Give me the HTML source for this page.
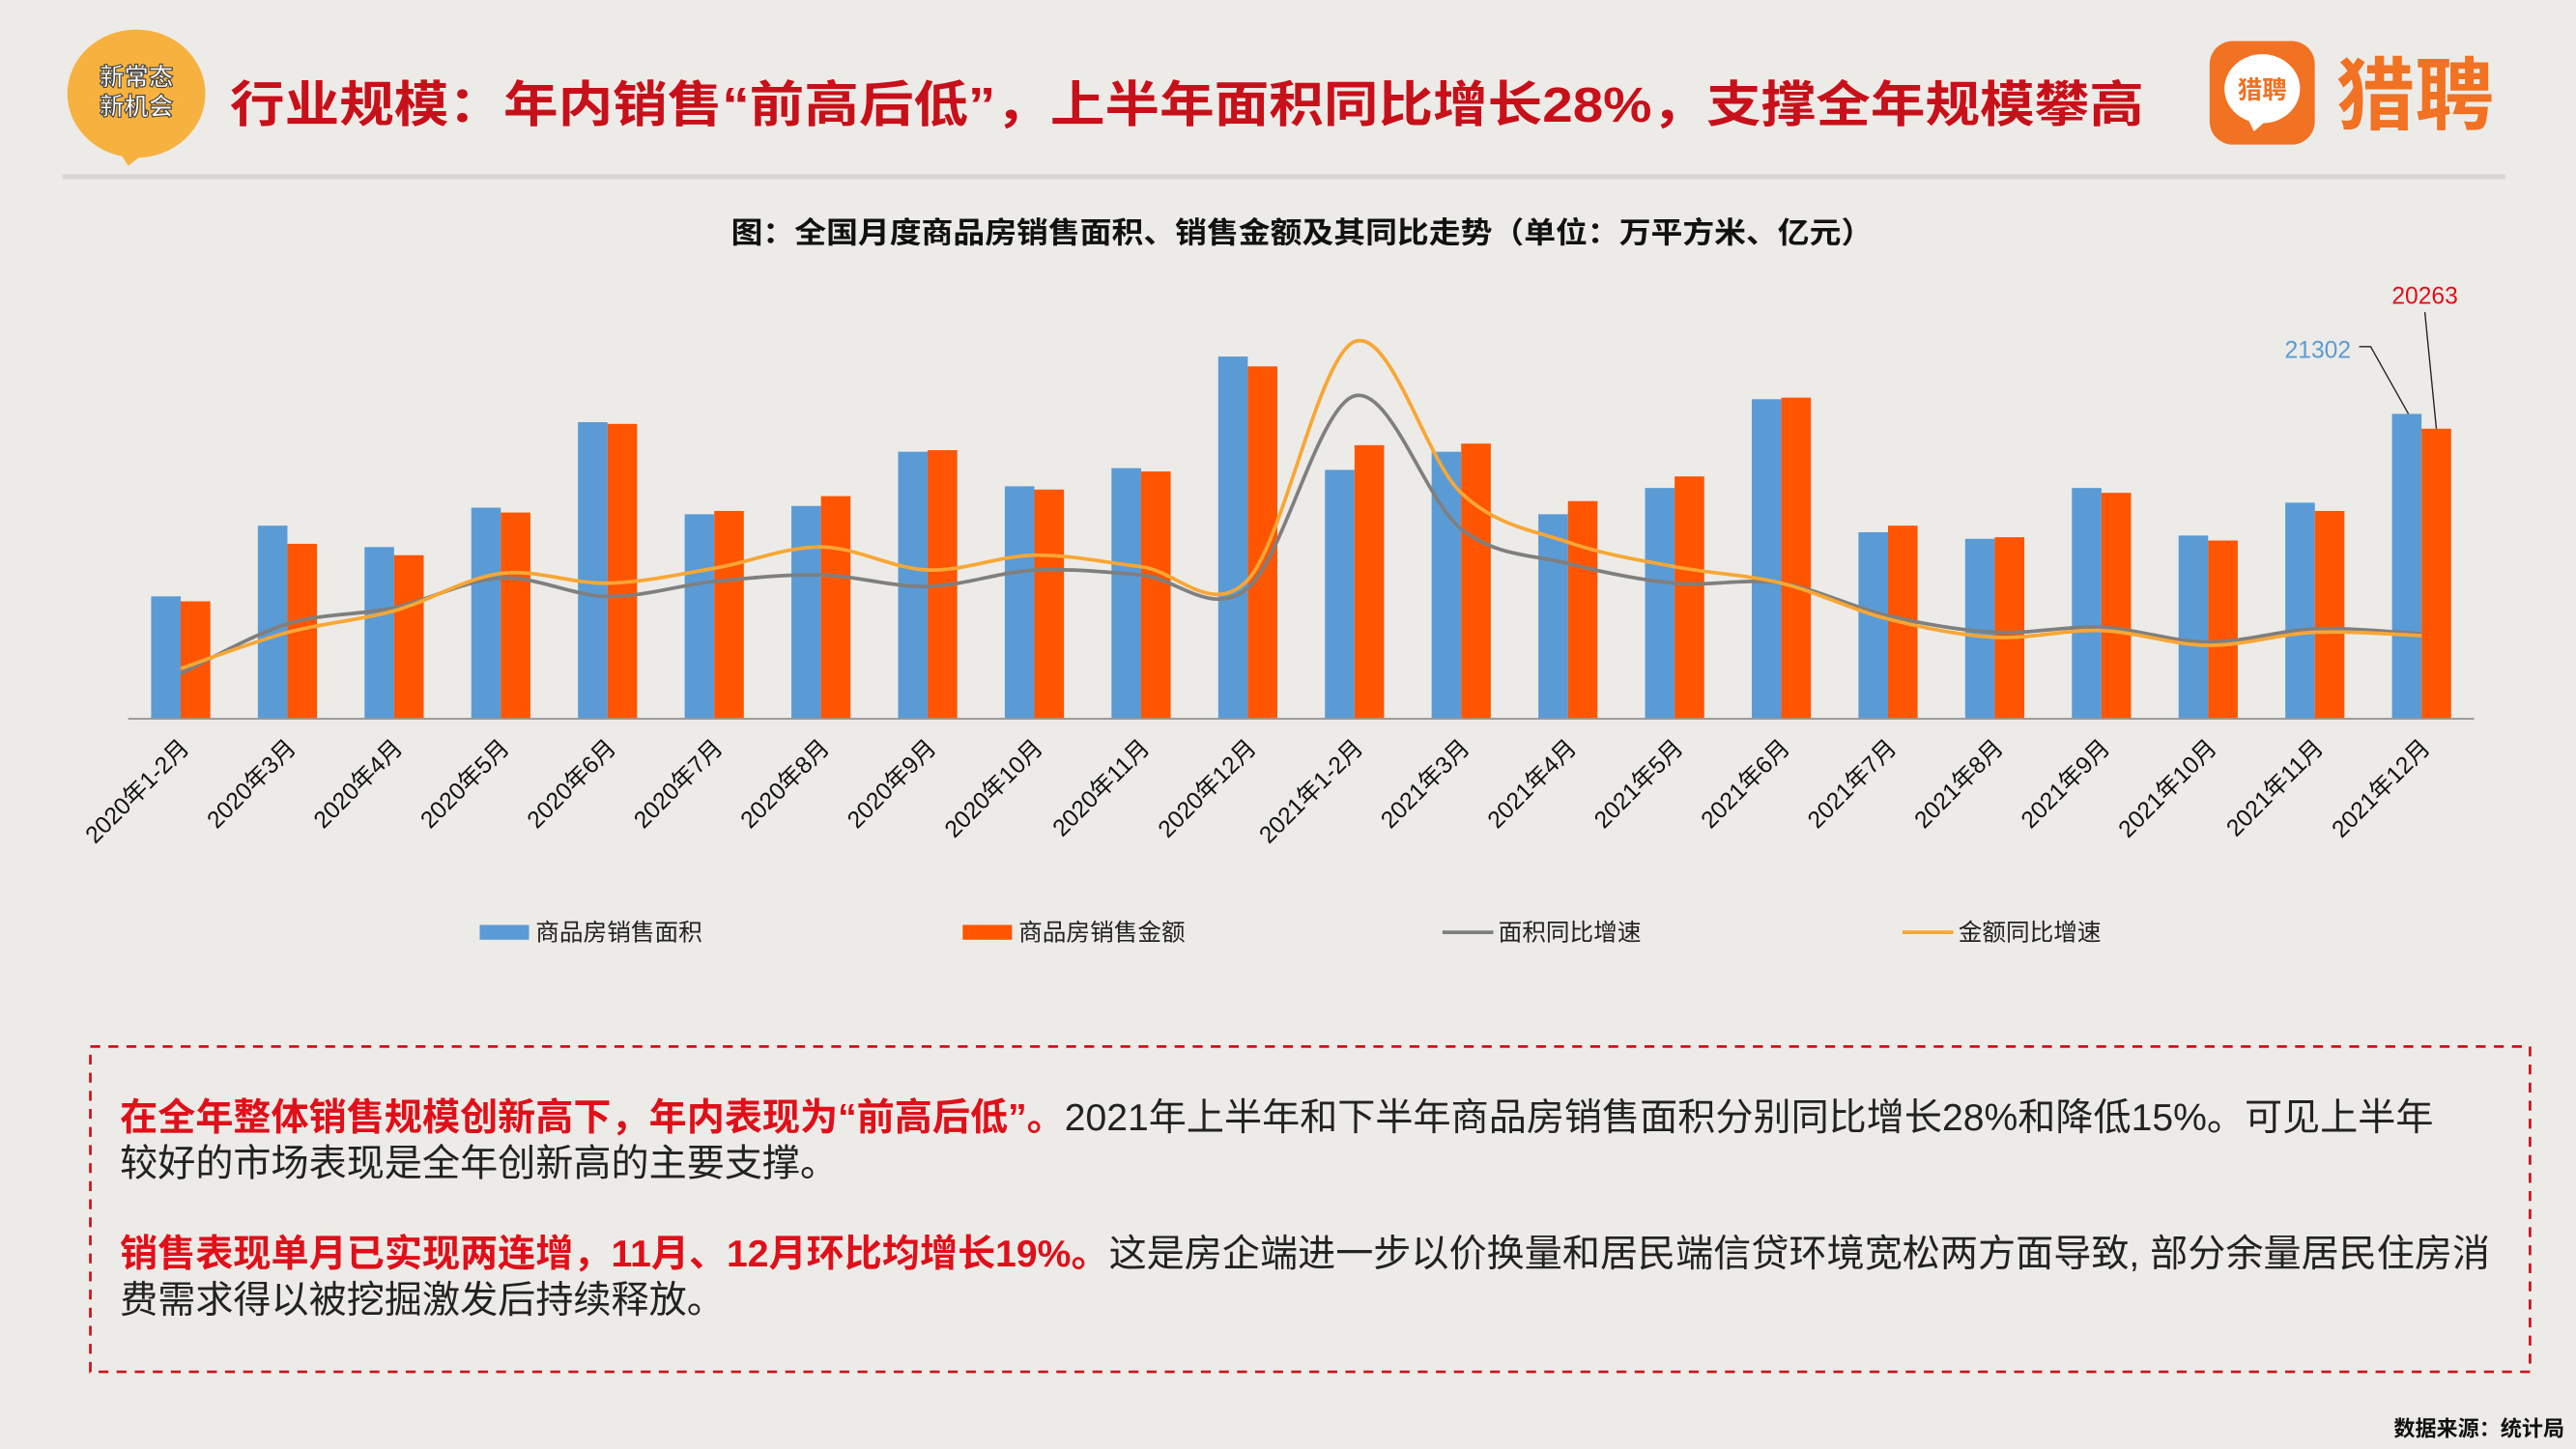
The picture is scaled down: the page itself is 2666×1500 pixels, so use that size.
<!DOCTYPE html>
<html><head><meta charset="utf-8"><style>
html,body{margin:0;padding:0;background:#edebe7;}
#wrap{width:2666px;height:1500px;overflow:hidden;position:relative;background:#edebe7;}
#stage{width:1568px;height:882px;position:absolute;left:0;top:0;transform-origin:0 0;transform:scale(1.70026,1.70068);font-family:"Liberation Sans","Noto Sans CJK SC",sans-serif;}
.abs{position:absolute;}
</style></head><body>
<div id="wrap"><div id="stage">
<svg class="abs" style="left:0;top:0" width="1568" height="882">
  <g>
    <ellipse cx="83" cy="57" rx="42" ry="39" fill="#f6b13f"/>
    <path d="M70 88 L78 101 L92 90 Z" fill="#f6b13f"/>
    <text x="83" y="52" text-anchor="middle" font-size="15" font-weight="bold" fill="#fff" stroke="#444" stroke-width="0.7" font-family="'Noto Sans CJK SC',sans-serif">新常态</text>
    <text x="83" y="70" text-anchor="middle" font-size="15" font-weight="bold" fill="#fff" stroke="#444" stroke-width="0.7" font-family="'Noto Sans CJK SC',sans-serif">新机会</text>
  </g>
  <text x="140" y="74" font-size="30" font-weight="bold" fill="#c8101a" textLength="1165" lengthAdjust="spacingAndGlyphs" font-family="'Liberation Sans','Noto Sans CJK SC',sans-serif">行业规模：年内销售“前高后低”，上半年面积同比增长28%，支撑全年规模攀高</text>
  <g>
    <rect x="1345" y="25" width="64" height="63" rx="14" fill="#f27224"/>
    <ellipse cx="1377" cy="54" rx="23" ry="21" fill="#fff"/>
    <path d="M1368 72 L1372 80 L1380 73 Z" fill="#fff"/>
    <text x="1377" y="60" text-anchor="middle" font-size="15" font-weight="bold" fill="#f27224" font-family="'Noto Sans CJK SC',sans-serif">猎聘</text>
    <text x="1470" y="75" text-anchor="middle" font-size="48" font-weight="bold" fill="#f27224" font-family="'Noto Sans CJK SC',sans-serif">猎聘</text>
  </g>
  <rect x="38" y="106" width="1487" height="3" fill="#d8d6d2"/>
  <text x="445" y="148" font-size="18" font-weight="bold" fill="#111" textLength="695" lengthAdjust="spacingAndGlyphs" font-family="'Liberation Sans','Noto Sans CJK SC',sans-serif">图：全国月度商品房销售面积、销售金额及其同比走势（单位：万平方米、亿元）</text>
  <g id="chart"></g>
  <rect x="55" y="637" width="1485" height="198" fill="none" stroke="#d0101a" stroke-width="1.6" stroke-dasharray="6,5"/>
  <text x="1561" y="874" text-anchor="end" font-size="13" font-weight="bold" fill="#111" font-family="'Liberation Sans','Noto Sans CJK SC',sans-serif">数据来源：统计局</text>
</svg>
<div class="abs" style="left:73px;top:666px;width:1470px;font-size:23px;line-height:28px;color:#222;white-space:nowrap;font-family:'Liberation Sans','Noto Sans CJK SC',sans-serif;">
<div><b style="color:#e0101a">在全年整体销售规模创新高下，年内表现为“前高后低”。</b>2021年上半年和下半年商品房销售面积分别同比增长28%和降低15%。可见上半年<br>较好的市场表现是全年创新高的主要支撑。</div>
<div style="margin-top:27px"><b style="color:#e0101a">销售表现单月已实现两连增，11月、12月环比均增长19%。</b>这是房企端进一步以价换量和居民端信贷环境宽松两方面导致, 部分余量居民住房消<br>费需求得以被挖掘激发后持续释放。</div>
</div>
</div></div>
<script>
const categories=["2020年1-2月","2020年3月","2020年4月","2020年5月","2020年6月","2020年7月","2020年8月","2020年9月","2020年10月","2020年11月","2020年12月","2021年1-2月","2021年3月","2021年4月","2021年5月","2021年6月","2021年7月","2021年8月","2021年9月","2021年10月","2021年11月","2021年12月"];
const areaValues=[8520,13470,11970,14730,20720,14270,14850,18650,16230,17500,25320,17380,18650,14270,16110,22330,13010,12550,16110,12780,15080,21302];
const amountValues=[8170,12200,11400,14390,20600,14500,15540,18760,16000,17270,24630,19110,19220,15190,16920,22440,13470,12660,15770,12430,14500,20263];
const areaGrowth=[-39.9,-14.0,-5.6,9.9,0.3,8.1,11.5,5.5,14.0,11.5,4.6,104.9,35.5,17.5,7.2,7.2,-9.8,-18.4,-15.8,-23.5,-16.6,-19.2];
const amountGrowth=[-37.3,-18.5,-7.2,12.3,7.2,15.0,26.1,14.1,21.8,15.8,8.9,133.2,54.3,28.6,15.8,7.2,-11.5,-21.0,-17.5,-25.2,-18.4,-20.1];
const legendLabels=["商品房销售面积","商品房销售金额","面积同比增速","金额同比增速"];

const NS="http://www.w3.org/2000/svg";
const g=document.getElementById('chart');
const base=437, x0=110, step=(1474-110)/21, bw=18;
const xC=i=>x0+i*step;
const yV=v=>base-v/115.1;
const yP=p=>363.4-p*1.167;
function mk(t,a){const e=document.createElementNS(NS,t);for(const k in a)e.setAttribute(k,a[k]);g.appendChild(e);return e;}
const axis=mk('line',{x1:78,y1:base+0.5,x2:1506,y2:base+0.5,stroke:'#8a8a8a','stroke-width':1});


categories.forEach((c,i)=>{
  const b1=mk('rect',{x:xC(i)-bw,y:yV(areaValues[i]),width:bw,height:base-yV(areaValues[i]),fill:'#5b9bd5'});
  
  
  const b2=mk('rect',{x:xC(i),y:yV(amountValues[i]),width:bw,height:base-yV(amountValues[i]),fill:'#ff5500'});
  
  
  const t=mk('text',{x:0,y:0,'text-anchor':'end','font-size':14.5,fill:'#111',transform:`translate(${xC(i)+6},${base+19}) rotate(-45)`});
  t.textContent=c;
  
  
});
function smooth(pts){let d=`M${pts[0][0]},${pts[0][1]}`;for(let i=0;i<pts.length-1;i++){const p0=pts[i-1]||pts[i],p1=pts[i],p2=pts[i+1],p3=pts[i+2]||p2;const c1=[p1[0]+(p2[0]-p0[0])/6,p1[1]+(p2[1]-p0[1])/6],c2=[p2[0]-(p3[0]-p1[0])/6,p2[1]-(p3[1]-p1[1])/6];d+=`C${c1[0]},${c1[1]} ${c2[0]},${c2[1]} ${p2[0]},${p2[1]}`;}return d;}
const l1=mk('path',{d:smooth(areaGrowth.map((v,i)=>[xC(i),yP(v)])),fill:'none',stroke:'#7f7f7f','stroke-width':2.2});


const l2=mk('path',{d:smooth(amountGrowth.map((v,i)=>[xC(i),yP(v)])),fill:'none',stroke:'#f8a634','stroke-width':2.2});


const n=categories.length-1;
const a1=mk('text',{x:1431,y:218,'text-anchor':'end','font-size':14.5,fill:'#5b9bd5'});a1.textContent=areaValues[n];


mk('polyline',{points:`1436,211 1443,211 ${xC(n)-8},${yV(areaValues[n])}`,fill:'none',stroke:'#222','stroke-width':0.8});
const a2=mk('text',{x:1476,y:185,'text-anchor':'middle','font-size':14.5,fill:'#e0101a'});a2.textContent=amountValues[n];


mk('line',{x1:1476,y1:190,x2:xC(n)+9,y2:yV(amountValues[n]),stroke:'#222','stroke-width':0.8});
const lx=[292,586,878,1158];
legendLabels.forEach((lab,i)=>{
  let s;
  if(i<2){s=mk('rect',{x:lx[i],y:563,width:30,height:9,fill:i?'#ff5500':'#5b9bd5'});}
  else{s=mk('line',{x1:lx[i],y1:567.5,x2:lx[i]+31,y2:567.5,stroke:i==2?'#7f7f7f':'#f8a634','stroke-width':2.2});}
  
  
  const t=mk('text',{x:lx[i]+34,y:572.5,'font-size':14.5,fill:'#222'});t.textContent=lab;
  
  
});
</script>
</body></html>
